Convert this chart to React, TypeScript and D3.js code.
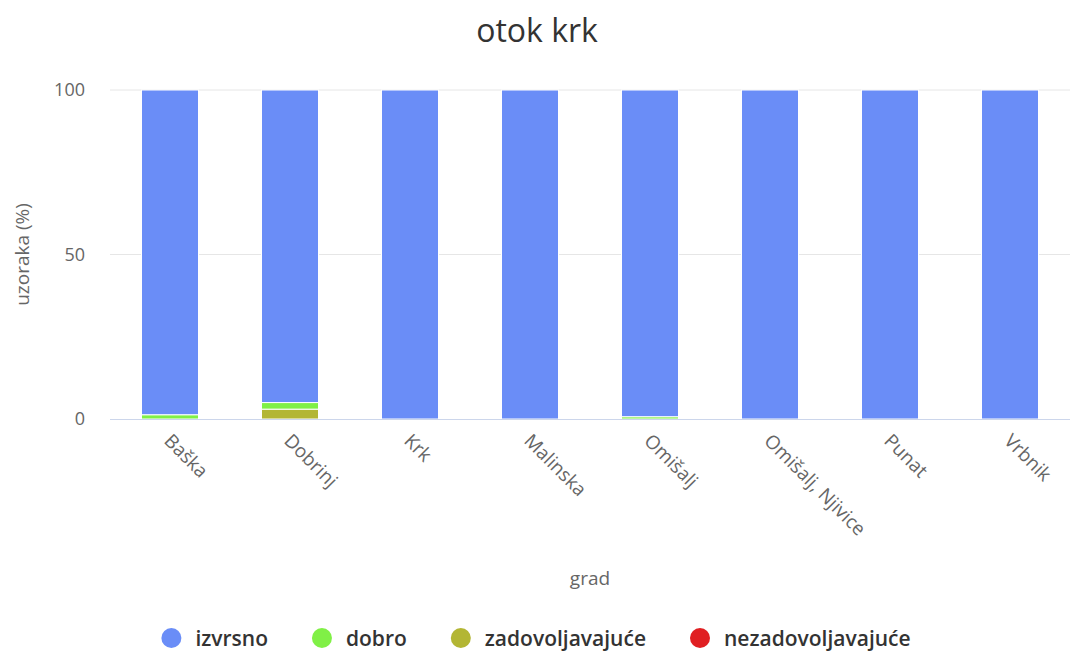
import React, { useEffect, useRef } from "react";
import * as d3 from "d3";

const categories = ["Baška", "Dobrinj", "Krk", "Malinska", "Omišalj", "Omišalj, Njivice", "Punat", "Vrbnik"];
const seriesNames = ["izvrsno", "dobro", "zadovoljavajuće", "nezadovoljavajuće"];
const seriesColors = ["#6a8df7", "#80f046", "#b3b634", "#e01f22"];
const izvrsno = [98.7, 95, 100, 100, 99.3, 100, 100, 100];
const dobro = [1.3, 2, 0, 0, 0.7, 0, 0, 0];
const zadovoljavajuce = [0, 3, 0, 0, 0, 0, 0, 0];
const nezadovoljavajuce = [0, 0, 0, 0, 0, 0, 0, 0];
const yTicks = [0, 50, 100];
const titleText = "otok krk";
const xTitle = "grad";
const yTitle = "uzoraka (%)";

const W = 1071;
const H = 653;
const FONT = "'Open Sans', 'DejaVu Sans', sans-serif";

export default function App() {
  const ref = useRef<SVGSVGElement | null>(null);

  useEffect(() => {
    const svg = d3.select(ref.current);
    svg.selectAll("*").remove();

    const left = 110, right = 1070, top = 90, bottom = 419;
    const x = d3.scaleBand<string>().domain(categories).range([left, right]).paddingInner(0.525).paddingOuter(0.2625);
    const y = d3.scaleLinear().domain([0, 100]).range([bottom, top]);

    const seriesData = [izvrsno, dobro, zadovoljavajuce, nezadovoljavajuce];
    const rows = categories.map((c, i) => {
      const r: any = { cat: c };
      seriesNames.forEach((s, k) => (r[s] = seriesData[k][i]));
      return r;
    });
    const stack = d3.stack<any>().keys([...seriesNames].reverse());
    const stacked = stack(rows);

    // title
    svg.append("text").attr("x", 537).attr("y", 42).attr("text-anchor", "middle")
      .attr("font-family", FONT).attr("font-size", 32).attr("fill", "#333").text(titleText);

    // grid
    svg.append("g").selectAll("line").data(yTicks.filter((t) => t !== 0)).join("line")
      .attr("x1", left).attr("x2", right).attr("y1", (d) => y(d)).attr("y2", (d) => y(d))
      .attr("stroke", "#e6e6e6").attr("stroke-width", 1);

    // y tick labels
    svg.append("g").selectAll("text").data(yTicks).join("text")
      .attr("x", 85).attr("y", (d) => y(d) + 6).attr("text-anchor", "end")
      .attr("font-family", FONT).attr("font-size", 18).attr("fill", "#666").text((d) => String(d));

    // bars
    const g = svg.append("g");
    stacked.forEach((layer) => {
      const color = seriesColors[seriesNames.indexOf(layer.key as string)];
      g.append("g").selectAll("rect").data(layer).join("rect")
        .attr("x", (d: any) => x(d.data.cat)!)
        .attr("width", x.bandwidth())
        .attr("y", (d: any) => y(d[1]))
        .attr("height", (d: any) => Math.max(0, y(d[0]) - y(d[1])))
        .attr("fill", color)
        .attr("stroke", "#fff")
        .attr("stroke-width", (d: any) => (d[1] - d[0] > 0 ? 1 : 0));
    });

    // x axis line
    svg.append("line").attr("x1", left).attr("x2", right).attr("y1", bottom + 0.5).attr("y2", bottom + 0.5)
      .attr("stroke", "#ccd6eb").attr("stroke-width", 1);

    // x labels
    svg.append("g").selectAll("text").data(categories).join("text")
      .attr("transform", (d) => `translate(${x(d)! + x.bandwidth() / 2 - 7},${bottom + 23}) rotate(45)`)
      .attr("text-anchor", "start")
      .attr("font-family", FONT).attr("font-size", 19).attr("fill", "#666").text((d) => d);

    // axis titles
    svg.append("text").attr("x", (left + right) / 2).attr("y", 585).attr("text-anchor", "middle")
      .attr("font-family", FONT).attr("font-size", 19).attr("fill", "#666").text(xTitle);
    svg.append("text").attr("transform", `translate(29,${(top + bottom) / 2}) rotate(-90)`).attr("text-anchor", "middle")
      .attr("font-family", FONT).attr("font-size", 19).attr("fill", "#666").text(yTitle);

    // legend
    const lg = svg.append("g");
    const items = lg.selectAll("g").data(seriesNames).join("g");
    items.append("circle").attr("r", 10).attr("cx", 10).attr("cy", 0).attr("fill", (d, i) => seriesColors[i]);
    const texts = items.append("text").attr("x", 34).attr("y", 8)
      .attr("font-family", FONT).attr("font-size", 21).attr("font-weight", 600).attr("fill", "#333").text((d) => d);
    const widths: number[] = [];
    texts.each(function () { widths.push(34 + (this as SVGTextElement).getComputedTextLength()); });
    const gap = 44;
    const total = d3.sum(widths) + gap * (widths.length - 1);
    let cx = 536 - total / 2;
    items.each(function (_, i) {
      d3.select(this).attr("transform", `translate(${cx},638)`);
      cx += widths[i] + gap;
    });
  }, []);

  return (
    <svg
      ref={ref}
      width={W}
      height={H}
      style={{ display: "block", position: "absolute", top: 0, left: 0 }}
    />
  );
}
